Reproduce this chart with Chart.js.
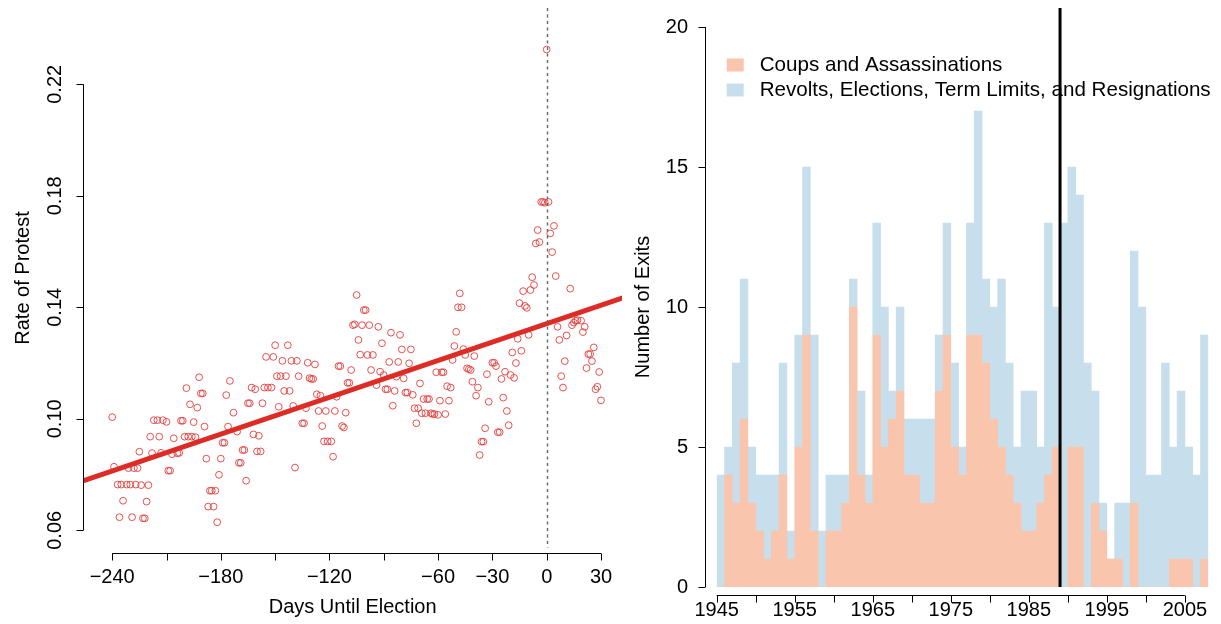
<!DOCTYPE html>
<html>
<head>
<meta charset="utf-8">
<script src="https://cdn.jsdelivr.net/npm/chart.js@4.4.1/dist/chart.umd.min.js"></script>
<style>
  html, body { margin: 0; padding: 0; background: #fff; }
  #wrap { position: relative; width: 1221px; height: 624px; overflow: hidden; }
  canvas { position: absolute; top: 0; }
  #protest { left: 0; }
  #exits { left: 620px; }
</style>
</head>
<body>
<div id="wrap">
  <canvas id="protest" width="640" height="624"></canvas>
  <canvas id="exits" width="601" height="624"></canvas>
</div>
<script>
// ---- left panel: daily protest rate around elections ----
const days = [
  -240,-239,-237,-236,-235,-234,-232,-231,-230,-229,-228,-227,-226,-225,-224,-223,-222,-221,-220,-219,
  -218,-217,-215,-214,-213,-212,-210,-209,-208,-207,-206,-204,-203,-202,-201,-200,-199,-198,-197,-196,
  -195,-194,-193,-192,-191,-190,-189,-188,-187,-186,-185,-184,-183,-182,-181,-180,-179,-178,-177,-176,
  -175,-173,-171,-170,-169,-168,-167,-166,-165,-164,-163,-162,-161,-160,-159,-158,-157,-156,-155,-154,
  -152,-151,-150,-149,-148,-147,-146,-145,-144,-143,-142,-141,-140,-139,-138,-137,-135,-134,-133,-132,
  -131,-130,-129,-128,-127,-126,-125,-124,-123,-122,-121,-119,-118,-117,-116,-115,-114,-113,-112,-111,
  -110,-109,-108,-107,-106,-105,-104,-103,-102,-101,-100,-99,-98,-97,-96,-94,-93,-92,-91,-90,
  -89,-88,-87,-86,-85,-84,-83,-82,-81,-80,-79,-78,-77,-76,-75,-74,-73,-72,-71,-70,
  -69,-68,-67,-66,-65,-64,-63,-62,-61,-60,-59,-58,-57,-56,-55,-54,-53,-52,-51,-50,
  -49,-48,-47,-46,-45,-44,-43,-42,-41,-40,-39,-38,-37,-36,-35,-34,-33,-32,-30,-29,
  -28,-27,-26,-25,-24,-23,-22,-21,-20,-19,-18,-17,-16,-15,-14,-13,-12,-11,-10,-9,
  -8,-7,-6,-5,-4,-3,-2,-1,0,1,2,3,4,5,6,7,8,9,10,11,
  13,14,15,16,17,19,20,21,22,23,24,25,26,27,28,29,30
];
const protestRate = [
  .1006,.0828,.0764,.0647,.0764,.0706,.0764,.0823,.0764,.0647,.0823,.0764,.0823,.0882,.0762,.0643,.0643,.0703,.0762,.0936,
  .0877,.0995,.0995,.0936,.0878,.0995,.0989,.0814,.0814,.0873,.0930,.0876,.0878,.0993,.0993,.0936,.1110,.0936,.1052,.0936,
  .0988,.0934,.1040,.1149,.1091,.1091,.0972,.0857,.0685,.0742,.0742,.0685,.0742,.0629,.0799,.0857,.0914,.0914,.1085,.0972,
  .1136,.1022,.0954,.0842,.0842,.0888,.0888,.0778,.1056,.1056,.1112,.0944,.1106,.0883,.0939,.0883,.1056,.1112,.1222,.1112,
  .1112,.1222,.1264,.1153,.1043,.1153,.1208,.1100,.1153,.1264,.1100,.1208,.1046,.0825,.1208,.1153,.0984,.0984,.1038,.1201,
  .1146,.1143,.1143,.1195,.1088,.1028,.1083,.0974,.0919,.1028,.0919,.0919,.0864,.1028,.1079,.1189,.1189,.0974,.0969,.1022,
  .1129,.1129,.1175,.1336,.1339,.1444,.1283,.1230,.1336,.1390,.1390,.1229,.1336,.1175,.1229,.1121,.1330,.1169,.1271,.1157,
  .1106,.1106,.1204,.1309,.1047,.1100,.1151,.1204,.1301,.1249,.1145,.1094,.1094,.1199,.1249,.1086,.1038,.0984,.1038,.1127,
  .1020,.1071,.1020,.1071,.1071,.1020,.1017,.1017,.1167,.1014,.1065,.1167,.1167,.1017,.1117,.1065,.1112,.1211,.1261,.1312,
  .1400,.1450,.1400,.1250,.1229,.1181,.1178,.1175,.1133,.1225,.1083,.1112,.0870,.0918,.0918,.0966,.1160,.1061,.1201,.1201,
  .1189,.0952,.0952,.1143,.1076,.1169,.1028,.0977,.1157,.1238,.1147,.1200,.1287,.1415,.1244,.1458,.1405,.1398,.1301,.1462,
  .1508,.1480,.1629,.1677,.1634,.1778,.1778,.1775,.2325,.1778,.1665,.1598,.1692,.1512,.1330,.1283,.1153,.1112,.1207,.1299,
  .1467,.1336,.1345,.1352,.1354,.1352,.1311,.1330,.1182,.1232,.1232,.1207,.1256,.1106,.1115,.1168,.1066
];
const fitDays = [-260, 45];
const fitRate = [0.0769, 0.1440];
const electionDay = 0;
const dayTicks = [-240, -210, -180, -150, -120, -90, -60, -30, 0, 30];
const dayLabels = [-240, -180, -120, -60, -30, 0, 30];
const rateTicks = [0.06, 0.10, 0.14, 0.18, 0.22];

// ---- right panel: leader exits per year ----
const years = [
  1945,1946,1947,1948,1949,1950,1951,1952,1953,1954,1955,1956,1957,1958,1959,1960,1961,1962,1963,1964,
  1965,1966,1967,1968,1969,1970,1971,1972,1973,1974,1975,1976,1977,1978,1979,1980,1981,1982,1983,1984,
  1985,1986,1987,1988,1989,1990,1991,1992,1993,1994,1995,1996,1997,1998,1999,2000,2001,2002,2003,2004,
  2005,2006,2007
];
const coups = [
  0,4,3,6,3,2,1,2,4,1, 5,9,2,0,2,2,3,10,4,3,
  9,5,6,7,4,4,3,3,7,9, 5,4,9,9,8,6,5,4,3,2,
  2,3,4,5,0,5,5,0,3,2, 1,1,0,3,0,0,0,0,1,1,
  1,0,1
];
const otherExits = [
  4,1,5,5,2,2,3,2,4,1, 4,6,7,2,2,2,1,1,3,1,
  4,5,1,3,2,2,3,3,2,4, 3,1,4,8,3,4,6,4,2,5,
  5,2,9,5,13,10,9,8,4,1, 0,2,3,9,10,4,4,8,4,6,
  4,4,8
];
const yearTicks = [1945, 1950, 1955, 1960, 1965, 1970, 1975, 1980, 1985, 1990, 1995, 2000, 2005];
const yearLabels = [1945, 1955, 1965, 1975, 1985, 1995, 2005];
const exitTicks = [0, 5, 10, 15, 20];
const coldWarEnd = 1989;
const seriesNames = ['Coups and Assassinations', 'Revolts, Elections, Term Limits, and Resignations'];

const FONT = '20px "Liberation Sans", Arial, Helvetica, sans-serif';
const LEGEND_FONT = '20.6px "Liberation Sans", Arial, Helvetica, sans-serif';
const SALMON = '#fac5ad';
const BLUE = '#c7dfec';
Chart.defaults.font.family = '"Liberation Sans", Arial, Helvetica, sans-serif';

const crisp = v => Math.round(v) + 0.5;
const signed = v => (v < 0 ? '\u2212' + (-v) : String(v));

// R-style axes: line only spans the ticks, labels drawn by hand
const protestAxes = {
  id: 'protestAxes',
  afterDatasetsDraw(chart) {
    const { ctx, scales: { x }, chartArea: a } = chart;
    ctx.save();
    // dashed line on election day
    ctx.strokeStyle = '#666';
    ctx.lineWidth = 1.4;
    ctx.setLineDash([3, 3.5]);
    ctx.beginPath();
    const ex = crisp(x.getPixelForValue(electionDay));
    ctx.moveTo(ex, a.top);
    ctx.lineTo(ex, a.bottom);
    ctx.stroke();
    ctx.restore();
  },
  afterDraw(chart) {
    const { ctx, scales: { x, y }, chartArea: a } = chart;
    ctx.save();
    ctx.strokeStyle = '#000';
    ctx.fillStyle = '#000';
    ctx.lineWidth = 1;
    ctx.font = FONT;
    const ay = 553.5;
    const ax = crisp(a.left);
    ctx.beginPath();
    ctx.moveTo(x.getPixelForValue(dayTicks[0]), ay);
    ctx.lineTo(x.getPixelForValue(dayTicks[dayTicks.length - 1]), ay);
    dayTicks.forEach(v => { const p = crisp(x.getPixelForValue(v)); ctx.moveTo(p, ay); ctx.lineTo(p, ay + 7); });
    ctx.moveTo(ax, y.getPixelForValue(rateTicks[0]));
    ctx.lineTo(ax, y.getPixelForValue(rateTicks[rateTicks.length - 1]));
    rateTicks.forEach(v => { const p = crisp(y.getPixelForValue(v)); ctx.moveTo(ax, p); ctx.lineTo(ax - 7, p); });
    ctx.stroke();

    ctx.textAlign = 'center';
    ctx.textBaseline = 'middle';
    dayLabels.forEach(v => ctx.fillText(signed(v), x.getPixelForValue(v), 577));
    ctx.fillText('Days Until Election', (a.left + a.right) / 2, 607);
    rateTicks.forEach(v => {
      ctx.save();
      ctx.translate(55, y.getPixelForValue(v));
      ctx.rotate(-Math.PI / 2);
      ctx.fillText(v.toFixed(2), 0, 0);
      ctx.restore();
    });
    ctx.save();
    ctx.translate(23, (a.top + a.bottom) / 2);
    ctx.rotate(-Math.PI / 2);
    ctx.fillText('Rate of Protest', 0, 0);
    ctx.restore();
    ctx.restore();
  }
};

const exitAxes = {
  id: 'exitAxes',
  afterDatasetsDraw(chart) {
    const { ctx, scales: { x, y } } = chart;
    ctx.save();
    ctx.strokeStyle = '#000';
    ctx.lineWidth = 3;
    const cx = x.getPixelForValue(coldWarEnd);
    ctx.beginPath();
    ctx.moveTo(cx, 8);
    ctx.lineTo(cx, y.getPixelForValue(0));
    ctx.stroke();
    ctx.restore();
  },
  afterDraw(chart) {
    const { ctx, scales: { x, y }, chartArea: a } = chart;
    ctx.save();
    ctx.strokeStyle = '#000';
    ctx.fillStyle = '#000';
    ctx.lineWidth = 1;
    ctx.font = FONT;
    const ax = 85.5;
    const ay = 595.5;
    ctx.beginPath();
    ctx.moveTo(ax, y.getPixelForValue(exitTicks[0]));
    ctx.lineTo(ax, y.getPixelForValue(exitTicks[exitTicks.length - 1]));
    exitTicks.forEach(v => { const p = crisp(y.getPixelForValue(v)); ctx.moveTo(ax, p); ctx.lineTo(ax - 7, p); });
    ctx.moveTo(x.getPixelForValue(yearTicks[0]), ay);
    ctx.lineTo(x.getPixelForValue(yearTicks[yearTicks.length - 1]), ay);
    yearTicks.forEach(v => { const p = crisp(x.getPixelForValue(v)); ctx.moveTo(p, ay); ctx.lineTo(p, ay + 7); });
    ctx.stroke();

    ctx.textBaseline = 'middle';
    ctx.textAlign = 'right';
    exitTicks.forEach(v => ctx.fillText(String(v), 68, y.getPixelForValue(v)));
    ctx.textAlign = 'center';
    yearLabels.forEach(v => ctx.fillText(String(v), x.getPixelForValue(v), 610));
    ctx.save();
    ctx.translate(23, (a.top + a.bottom) / 2);
    ctx.rotate(-Math.PI / 2);
    ctx.fillText('Number of Exits', 0, 0);
    ctx.restore();

    // legend, top-left inside the plot
    ctx.textAlign = 'left';
    ctx.font = LEGEND_FONT;
    [SALMON, BLUE].forEach((c, i) => {
      const cy = 65 + i * 25;
      ctx.fillStyle = c;
      ctx.fillRect(a.left + 10, cy - 6.5, 17, 13);
      ctx.fillStyle = '#000';
      ctx.fillText(seriesNames[i], a.left + 43, cy);
    });
    ctx.restore();
  }
};

new Chart(document.getElementById('protest'), {
  type: 'scatter',
  data: {
    datasets: [
      {
        type: 'line',
        data: fitDays.map((d, i) => ({ x: d, y: fitRate[i] })),
        borderColor: '#dd2c26',
        borderWidth: 5,
        pointRadius: 0,
        clip: 0
      },
      {
        data: days.map((d, i) => ({ x: d, y: protestRate[i] })),
        pointStyle: 'circle',
        pointRadius: 3.4,
        pointBorderWidth: 1,
        pointBackgroundColor: 'rgba(0,0,0,0)',
        pointBorderColor: 'rgba(228,62,60,0.9)'
      }
    ]
  },
  options: {
    responsive: false,
    animation: false,
    events: [],
    layout: { padding: { left: 83.3, right: 18, top: 8, bottom: 76 } },
    scales: {
      x: { type: 'linear', display: false, min: -255.96, max: 41.6 },
      y: { type: 'linear', display: false, min: 0.05365, max: 0.24737 }
    },
    plugins: { legend: { display: false }, tooltip: { enabled: false } }
  },
  plugins: [protestAxes]
});

new Chart(document.getElementById('exits'), {
  type: 'bar',
  data: {
    datasets: [
      {
        label: seriesNames[0],
        data: years.map((yr, i) => ({ x: yr + 0.5, y: coups[i] })),
        backgroundColor: SALMON,
        borderWidth: 0
      },
      {
        label: seriesNames[1],
        data: years.map((yr, i) => ({ x: yr + 0.5, y: otherExits[i] })),
        backgroundColor: BLUE,
        borderWidth: 0
      }
    ]
  },
  options: {
    responsive: false,
    animation: false,
    events: [],
    barPercentage: 1,
    categoryPercentage: 1,
    layout: { padding: { left: 96.7, right: 12.7, top: 27, bottom: 37 } },
    scales: {
      x: {
        type: 'linear', display: false, stacked: true, offset: false, min: 1945, max: 2008,
        afterBuildTicks: s => { s.ticks = yearTicks.map(v => ({ value: v })); }
      },
      y: { type: 'linear', display: false, stacked: true, min: 0, max: 20 }
    },
    plugins: { legend: { display: false }, tooltip: { enabled: false } }
  },
  plugins: [exitAxes]
});
</script>
</body>
</html>
